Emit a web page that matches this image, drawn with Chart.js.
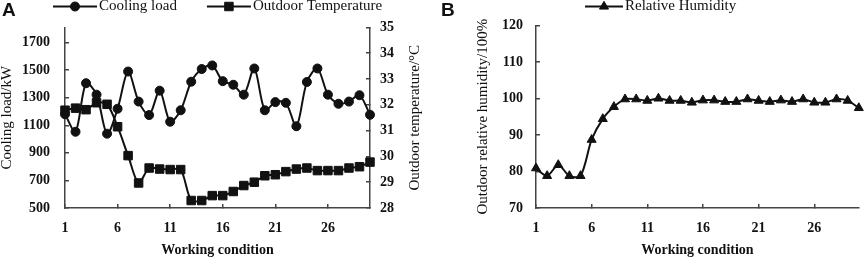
<!DOCTYPE html>
<html>
<head>
<meta charset="utf-8">
<script src="https://cdn.jsdelivr.net/npm/chart.js@4.4.1/dist/chart.umd.min.js"></script>
<style>
  html, body { margin: 0; padding: 0; background: #fff; }
  #wrap { position: relative; width: 865px; height: 262px; overflow: hidden; }
  .panel { position: absolute; top: 0; height: 262px; }
  #panelA { left: 0; width: 432px; }
  #panelB { left: 432px; width: 433px; }
  .tag { position: absolute; top: -1px; font: bold 19px 'Liberation Sans', Arial, sans-serif; color: #111; }
</style>
</head>
<body>
<div id="wrap">
  <div class="panel" id="panelA"><canvas id="chartA" width="432" height="262"></canvas></div>
  <div class="panel" id="panelB"><canvas id="chartB" width="433" height="262"></canvas></div>
  <div class="tag" style="left:2px">A</div>
  <div class="tag" style="left:441px">B</div>
</div>
<script>
// working conditions on the x axis
const conditions = [1, 2, 3, 4, 5, 6, 7, 8, 9, 10, 11, 12, 13, 14, 15, 16, 17, 18, 19, 20, 21, 22, 23, 24, 25, 26, 27, 28, 29, 30]
const conditionTicks = [1, 6, 11, 16, 21, 26]

// panel A
const coolingLoad = [1180, 1053, 1405, 1322, 1039, 1220, 1490, 1272, 1174, 1351, 1126, 1209, 1416, 1508, 1534,
  1420, 1394, 1322, 1512, 1209, 1268, 1263, 1093, 1414, 1512, 1322, 1256, 1272, 1318, 1176]
const outdoorTemp = [31.79, 31.87, 31.81, 32.08, 32.02, 31.15, 30.03, 28.97, 29.55, 29.51, 29.49, 29.49, 28.29, 28.29, 28.48,
  28.48, 28.64, 28.87, 29.0, 29.25, 29.29, 29.41, 29.51, 29.55, 29.45, 29.45, 29.45, 29.55, 29.6, 29.78]
const loadTicks = [500, 700, 900, 1100, 1300, 1500, 1700]
const tempTicks = [28, 29, 30, 31, 32, 33, 34, 35]

// panel B
const relHumidity = [80.9, 78.8, 81.8, 78.8, 78.8, 88.7, 94.4, 97.7, 99.8, 99.8, 99.4, 100.0, 99.4, 99.4, 98.9,
  99.5, 99.5, 99.1, 99.1, 99.8, 99.4, 99.1, 99.5, 99.1, 99.8, 98.9, 98.9, 99.8, 99.4, 97.4]
const humidityTicks = [70, 80, 90, 100, 110, 120]

const ink = '#111'
const axisColor = '#444'
const serif = "'Liberation Serif', 'Times New Roman', serif"

Chart.defaults.font.family = serif
Chart.defaults.color = ink

const toPoints = values => values.map((v, i) => ({ x: conditions[i], y: v }))
const fixedTicks = values => scale => { scale.ticks = values.map(v => ({ value: v })) }
const plainNumber = v => String(v)

// legend drawn as line + marker + label, like the original figure
const lineLegend = {
  id: 'lineLegend',
  afterDraw(chart, args, opts) {
    const { ctx, chartArea } = chart
    let x = chartArea.left + opts.offsetX
    const y = opts.y
    ctx.save()
    ctx.font = opts.font
    ctx.textBaseline = 'middle'
    ctx.textAlign = 'left'
    chart.data.datasets.forEach(ds => {
      ctx.strokeStyle = ds.borderColor
      ctx.lineWidth = ds.borderWidth
      ctx.beginPath()
      ctx.moveTo(x, y)
      ctx.lineTo(x + opts.lineLength, y)
      ctx.stroke()
      ctx.fillStyle = ds.pointBackgroundColor
      ctx.lineWidth = 1
      Chart.helpers.drawPoint(ctx, { pointStyle: ds.pointStyle, radius: ds.pointRadius, borderWidth: 1, rotation: 0 },
        x + opts.lineLength / 2, y)
      ctx.fillStyle = ink
      ctx.fillText(ds.label, x + opts.lineLength + 2, y)
      x += opts.lineLength + 2 + ctx.measureText(ds.label).width + opts.gap
    })
    ctx.restore()
  }
}

// right axis title reads bottom-to-top in the original
const sideTitle = {
  id: 'sideTitle',
  afterDraw(chart, args, opts) {
    if (!opts.text) return
    const { ctx, chartArea } = chart
    const s = chart.scales[opts.scaleId]
    ctx.save()
    ctx.translate(s.left + opts.offset, (chartArea.top + chartArea.bottom) / 2)
    ctx.rotate(-Math.PI / 2)
    ctx.font = opts.font
    ctx.fillStyle = ink
    ctx.textAlign = 'center'
    ctx.textBaseline = 'middle'
    ctx.fillText(opts.text, 0, 0)
    ctx.restore()
  }
}

const tickFont = { size: 14, weight: 'bold' }
const axisBase = {
  border: { color: axisColor, width: 1.5 },
  grid: { drawOnChartArea: false, tickLength: -4, color: axisColor, lineWidth: 1.5 },
}

const xAxis = {
  ...axisBase,
  type: 'linear',
  min: 1,
  max: 30,
  afterBuildTicks: fixedTicks(conditionTicks),
  afterFit: s => { s.height = 54 },
  ticks: { padding: 16, font: tickFont, callback: plainNumber },
  title: { display: true, text: 'Working condition', font: { size: 14, weight: 'bold', lineHeight: 1.2 }, padding: { top: 0, bottom: 3 } },
}

const lineStyle = {
  borderColor: ink,
  borderWidth: 2,
  pointBackgroundColor: ink,
  pointBorderColor: ink,
  pointBorderWidth: 1,
  tension: 0.3,
  clip: false,
}

const baseOptions = {
  responsive: false,
  animation: false,
  events: [],
  layout: { padding: 0 },
  plugins: { legend: { display: false }, tooltip: { enabled: false } },
}

new Chart(document.getElementById('chartA'), {
  type: 'line',
  data: {
    datasets: [
      { ...lineStyle, label: 'Cooling load', data: toPoints(coolingLoad), yAxisID: 'y', pointStyle: 'circle', pointRadius: 4.5 },
      { ...lineStyle, label: 'Outdoor Temperature', data: toPoints(outdoorTemp), yAxisID: 'y1', pointStyle: 'rect', pointRadius: 6 },
    ]
  },
  options: {
    ...baseOptions,
    plugins: {
      ...baseOptions.plugins,
      lineLegend: { offsetX: -12, y: 6.5, lineLength: 44, gap: 30, font: '15px ' + serif },
      sideTitle: { scaleId: 'y1', text: 'Outdoor temperature/°C', offset: 45, font: '15px ' + serif },
    },
    scales: {
      x: xAxis,
      y: {
        ...axisBase,
        position: 'left',
        min: 500,
        max: 1810,
        afterBuildTicks: fixedTicks(loadTicks),
        afterFit: s => { s.width = 65 },
        ticks: { padding: 19, font: tickFont, callback: plainNumber },
        title: { display: true, text: 'Cooling load/kW', font: { size: 15, lineHeight: 1.0 }, padding: { top: 0, bottom: 0 } },
      },
      y1: {
        ...axisBase,
        position: 'right',
        min: 28,
        max: 35,
        afterBuildTicks: fixedTicks(tempTicks),
        afterFit: s => { s.width = 62 },
        ticks: { padding: 14, font: tickFont, callback: plainNumber },
      },
    }
  },
  plugins: [lineLegend, sideTitle]
})

new Chart(document.getElementById('chartB'), {
  type: 'line',
  data: {
    datasets: [
      { ...lineStyle, label: 'Relative Humidity', data: toPoints(relHumidity), pointStyle: 'triangle', pointRadius: 5.2 },
    ]
  },
  options: {
    ...baseOptions,
    layout: { padding: { right: 5 } },
    plugins: {
      ...baseOptions.plugins,
      lineLegend: { offsetX: 49, y: 6.5, lineLength: 38, gap: 30, font: '15px ' + serif },
      sideTitle: {},
    },
    scales: {
      x: xAxis,
      y: {
        ...axisBase,
        position: 'left',
        min: 70,
        max: 120,
        afterBuildTicks: fixedTicks(humidityTicks),
        afterFit: s => { s.width = 104 },
        ticks: { padding: 17, font: tickFont, callback: plainNumber },
        title: { display: true, text: 'Outdoor relative humidity/100%', font: { size: 15, lineHeight: 1.0 }, padding: { top: 43.5, bottom: 0 } },
      },
    }
  },
  plugins: [lineLegend, sideTitle]
})
</script>
</body>
</html>
